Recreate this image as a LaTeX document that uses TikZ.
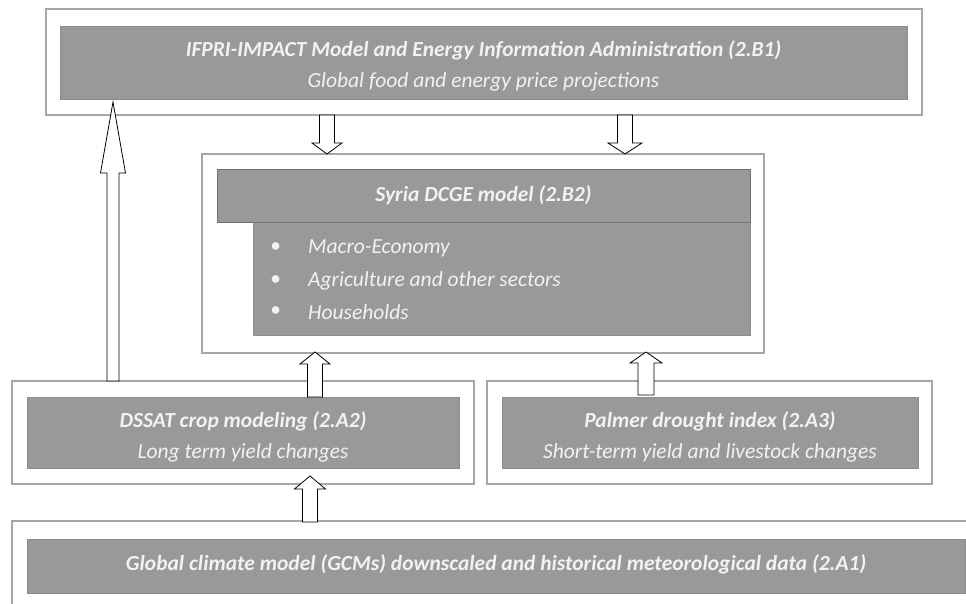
\documentclass[tikz,border=0pt]{standalone}
\usepackage{fontspec}
\setmainfont{Carlito}
\begin{document}
\begin{tikzpicture}[x=1pt,y=-1pt,
  outer/.style={draw=black!35,line width=1.1pt,fill=white,inner sep=0,outer sep=0},
  gbox/.style={draw=black!45,line width=0.6pt,fill=black!40,inner sep=0,outer sep=0},
  gtxt/.style={text=black!5,font=\fontsize{21.5}{31}\selectfont\itshape,align=center,inner sep=0},
  arr/.style={draw=black,line width=0.8pt,fill=white,line join=miter},
  btxt/.style={text=black!5,font=\fontsize{21.5}{26}\selectfont\itshape,anchor=west,inner sep=0}
]
\useasboundingbox (0,0) rectangle (966,604);
\clip (0,0) rectangle (966,604);
\newcommand\blockarr[6]{\draw[arr] ({#1-#5},#2) -- ({#1-#5},#4) -- ({#1-#6},#4) -- (#1,#3) -- ({#1+#6},#4) -- ({#1+#5},#4) -- ({#1+#5},#2) -- cycle;}
% top
\node[outer,minimum width=876,minimum height=106] (topo) at (484,62) {};
\node[gbox,minimum width=847,minimum height=73] (topi) at (483.5,62.5) {};
\node[gtxt] (topt) at ([yshift=-3pt]topi.center)
  {\textbf{IFPRI-IMPACT Model and Energy Information Administration (2.B1)}\\ Global food and energy price projections};
% middle
\node[outer,minimum width=562,minimum height=199] (mido) at (483,253.5) {};
\node[gbox,minimum width=497,minimum height=113] (body) at (501.5,278.5) {};
\node[gbox,draw=black!55,minimum width=533,minimum height=53] (head) at (483.5,195.5) {};
\node[gtxt] (headt) at (head.center) {\textbf{Syria DCGE model (2.B2)}};
\node[btxt] (b1) at (270,248) {\textbullet};
\node[btxt] (t1) at (308,248) {Macro-Economy};
\node[btxt] (b2) at (270,281) {\textbullet};
\node[btxt] (t2) at (308,281) {Agriculture and other sectors};
\node[btxt] (b3) at (270,312) {\textbullet};
\node[btxt] (t3) at (308,312) {Households};
% DSSAT
\node[outer,minimum width=462,minimum height=103] (dso) at (243,432.5) {};
\node[gbox,minimum width=432,minimum height=71] (dsi) at (243,432.5) {};
\node[gtxt] (dst) at ([yshift=-4pt]dsi.center)
  {\textbf{DSSAT crop modeling (2.A2)}\\ Long term yield changes};
% Palmer
\node[outer,minimum width=445,minimum height=103] (pao) at (709.5,432.5) {};
\node[gbox,minimum width=416,minimum height=71] (pai) at (710,432.5) {};
\node[gtxt] (pat) at ([yshift=-4pt]pai.center)
  {\textbf{Palmer drought index (2.A3)}\\ Short-term yield and livestock changes};
% GCM
\draw[draw=black!35,line width=1.1pt] (12,620) coordinate (g0) -- (12,521) coordinate (g1) -- (990,521) coordinate (g2);
\node[gbox,minimum width=938,minimum height=54] (gcm) at (496,566) {};
\node[gtxt] (gcmt) at ([yshift=2pt]gcm.center)
  {\textbf{Global climate model (GCMs) downscaled and historical meteorological data (2.A1)}};
% arrows
\blockarr{113}{381}{102}{173}{6}{12.5}
\blockarr{327}{115}{154}{143}{7.5}{15}
\blockarr{625}{115}{154}{143}{7.5}{17}
\blockarr{315}{397}{352}{364}{7.5}{15}
\blockarr{646}{395}{352}{363}{8}{16}
\blockarr{310}{522}{476}{489}{7.5}{15.5}
\end{tikzpicture}
\end{document}
